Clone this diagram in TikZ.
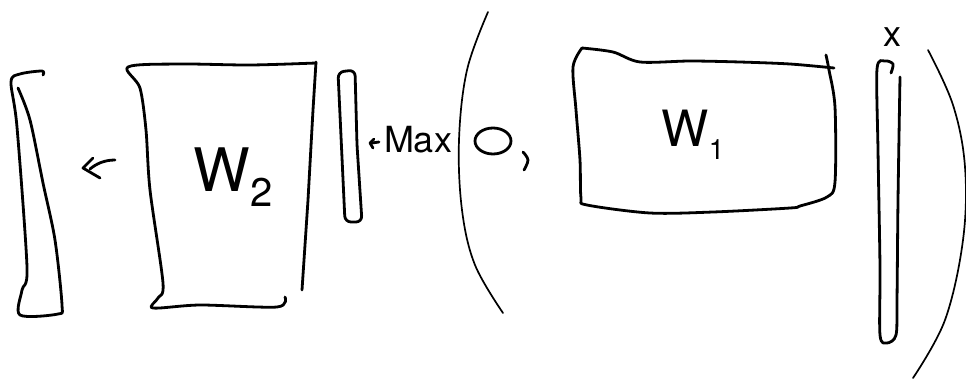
\documentclass[tikz,border=0pt]{standalone}
\usepackage{fontspec}
\setsansfont{TeX Gyre Heros}
\begin{document}
\begin{tikzpicture}[x=1pt,y=-1pt,
  ink/.style={line width=2.8pt,line cap=round,line join=round},
  thin ink/.style={line width=1.7pt,line cap=round,line join=round},
  hand/.style={font=\sffamily,inner sep=0pt}]
\useasboundingbox (0,0) rectangle (966,381);

% output vector (left)
\draw[ink] plot[smooth,tension=0.5] coordinates {(43,75) (42,71) (20,74) (11,82) (17,127) (27,267) (22,290) (20,315) (58,314) (62,305) (55,240) (43,183) (30,120) (18,88)};

% assignment arrow
\draw[ink] (115,160) .. controls (104,160) and (96,164) .. (90,169);
\draw[ink] (93,158) -- (83,168) -- (100,178);

% second weight matrix
\draw[ink] plot[smooth,tension=0.5] coordinates {(316,63) (250,65) (180,64) (128,67) (140,88) (146,130) (150,190) (163,283) (158,298) (153,308) (200,305) (277,307) (285,297)};
\draw[ink] (316,62) -- (313,110) -- (308,200) -- (302,290);
\node[hand,font=\sffamily\fontsize{60}{60}\selectfont] (w2) at (233,177) {W\raisebox{-0.25em}{\fontsize{40}{40}\selectfont 2}};

% hidden vector
\draw[ink,rounded corners=6pt] (338,72) -- (345,222) -- (362,222) -- (357,145) -- (355,70) -- cycle;

% small arrow and max
\draw[ink] (379,142) -- (372,143);
\draw[ink] (374,139) -- (370,143) -- (373,148);
\node[hand,font=\sffamily\fontsize{36}{36}\selectfont] (max) at (418,140) {Max};

% left parenthesis
\draw[thin ink] plot[smooth,tension=0.6] coordinates {(488,12) (467,70) (459,140) (462,210) (475,265) (503,313)};

% zero and comma
\draw[ink] (493,141) ellipse (18pt and 13pt);
\draw[ink] plot[smooth,tension=0.6] coordinates {(523,152) (528,160) (524,170)};

% first weight matrix
\draw[ink] plot[smooth,tension=0.5] coordinates {(582,48) (613,52) (640,62) (690,61) (740,62) (790,64) (834,68)};
\draw[ink] plot[smooth,tension=0.5] coordinates {(826,55) (829,70) (835,107) (835,182) (827,197) (800,206) (790,208) (713,212) (650,213) (587,205) (581,198) (580,160) (576,110) (573,67) (582,48)};
\node[hand,font=\sffamily\fontsize{50}{50}\selectfont] (w1) at (693,135) {W\raisebox{-0.25em}{\fontsize{28}{28}\selectfont 1}};

% input vector x
\draw[ink] plot[smooth,tension=0.5] coordinates {(891,73) (893,64) (885,61) (877,69) (878,150) (880,267) (880,335) (887,343) (896,335) (897,300) (898,200) (900,77)};
\node[hand,font=\sffamily\fontsize{36}{36}\selectfont] (x) at (892,37) {x};

% right parenthesis
\draw[thin ink] plot[smooth,tension=0.6] coordinates {(928,50) (953,105) (965,167) (963,240) (945,320) (913,378)};
\end{tikzpicture}
\end{document}
